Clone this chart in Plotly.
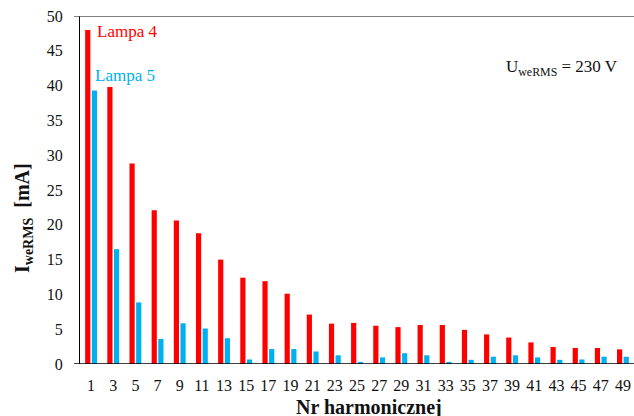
import plotly.graph_objects as go

# Harmonic orders and RMS harmonic currents [mA]
harmonics = [str(n) for n in range(1, 50, 2)]
lampa4 = [48.0, 39.8, 28.8, 22.1, 20.6, 18.8, 15.0, 12.4, 11.9, 10.1,
          7.1, 5.8, 5.9, 5.5, 5.3, 5.6, 5.6, 4.9, 4.25, 3.8,
          3.1, 2.45, 2.3, 2.3, 2.1]
lampa5 = [39.3, 16.5, 8.85, 3.6, 5.85, 5.1, 3.7, 0.65, 2.15, 2.15,
          1.8, 1.25, 0.3, 0.95, 1.55, 1.25, 0.3, 0.6, 1.05, 1.25,
          0.95, 0.6, 0.65, 1.05, 1.05]
y_ticks = list(range(0, 55, 5))

RED = "#FF0000"
BLUE = "#00B0F0"
SERIF = "Liberation Serif"
INK = "#111111"

fig = go.Figure()
fig.add_trace(go.Bar(x=harmonics, y=lampa4, name="Lampa 4",
                     marker=dict(color=RED, line=dict(width=0))))
fig.add_trace(go.Bar(x=harmonics, y=lampa5, name="Lampa 5",
                     marker=dict(color=BLUE, line=dict(width=0))))

W, H = 634, 416
L, R, T, B = 80, 0, 16, 52
pw, ph = W - L - R, H - T - B

def px_x(x):
    return (x - L) / pw

def px_y(y):
    return (H - B - y) / ph

def label(text, x, y, size, color=INK, angle=0):
    return dict(text=text, xref="paper", yref="paper",
                x=px_x(x), y=px_y(y), xanchor="center", yanchor="middle",
                textangle=angle, showarrow=False,
                font=dict(family=SERIF, size=size, color=color))

fig.update_layout(
    width=W, height=H,
    margin=dict(l=L, r=R, t=T, b=B, pad=0),
    paper_bgcolor="white", plot_bgcolor="white",
    barmode="group", bargap=0.4, bargroupgap=0.22,
    showlegend=False,
    font=dict(family=SERIF, size=16, color=INK),
    xaxis=dict(type="category", range=[-0.5, 24.5], showgrid=False,
               showline=False, ticks="", zeroline=False,
               ticklabelstandoff=10,
               tickfont=dict(family=SERIF, size=16, color=INK)),
    yaxis=dict(range=[0, 50], tickvals=y_ticks, showgrid=False,
               showline=True, linecolor="black", linewidth=1,
               ticks="", zeroline=False, ticklabelstandoff=13,
               tickfont=dict(family=SERIF, size=16, color=INK)),
    shapes=[
        dict(type="line", xref="paper", yref="y", x0=px_x(74), x1=1,
             y0=0, y1=0, line=dict(color="black", width=1.5)),
        dict(type="line", xref="paper", yref="y", x0=px_x(74), x1=1,
             y0=50, y1=50, line=dict(color="#555555", width=1.5)),
    ],
    annotations=[
        label("Lampa 4", 127, 31, 17, RED),
        label("Lampa 5", 125, 75, 17, BLUE),
        label("U<sub>weRMS</sub> = 230 V", 562, 68, 17),
        label("<b>I<sub>weRMS</sub>  [mA]</b>", 23, 218, 20, angle=-90),
        label("<b>Nr harmonicznej</b>", 369, 407, 20),
    ],
)

fig.write_html("out.html")
